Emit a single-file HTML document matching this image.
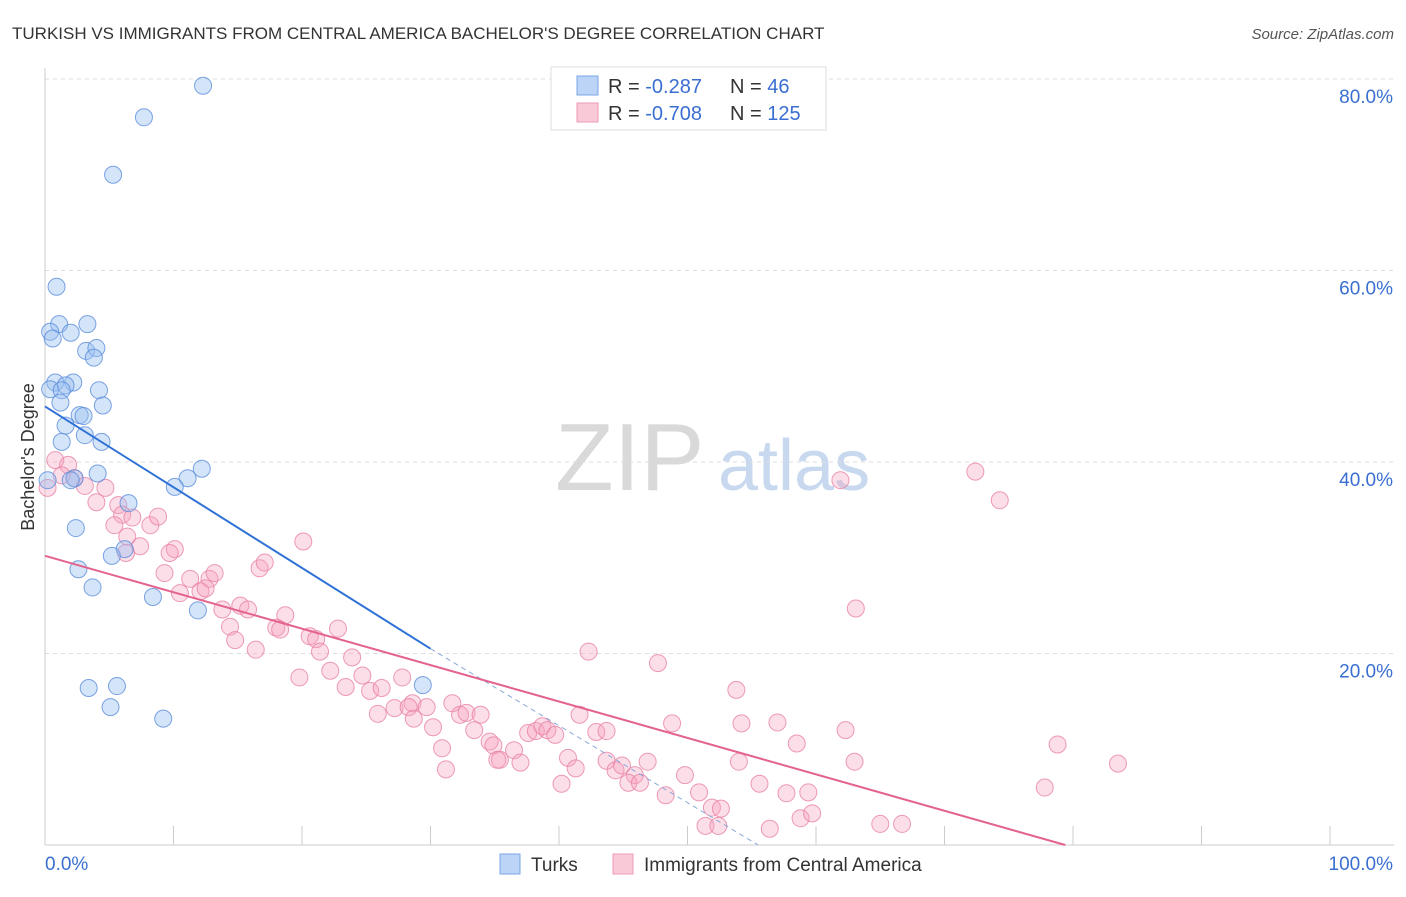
<!DOCTYPE html>
<html><head><meta charset="utf-8">
<style>
body{margin:0;background:#fff;font-family:"Liberation Sans",sans-serif;}
svg text{font-family:"Liberation Sans",sans-serif;}
</style></head>
<body>
<svg id="chart" width="1406" height="892" xmlns="http://www.w3.org/2000/svg">
<text x="12" y="39" font-size="17" fill="#333">TURKISH VS IMMIGRANTS FROM CENTRAL AMERICA BACHELOR'S DEGREE CORRELATION CHART</text>
<text x="1394" y="39" font-size="15" fill="#555" text-anchor="end" font-style="italic">Source: ZipAtlas.com</text>
<g>
<text x="555" y="490" font-size="96" fill="#d9d9d9" font-family="Liberation Serif,serif">ZIP</text>
<text x="718" y="490" font-size="72" fill="#c8d9ef">atlas</text>
</g>
<g id="grid"></g>
<g id="axes"></g>
<g id="marks"></g>
<text transform="translate(34,457) rotate(-90)" font-size="18" fill="#333" text-anchor="middle">Bachelor's Degree</text>
<g>
<rect x="551" y="67" width="275" height="63" fill="#fff" stroke="#ddd"/>
<rect x="577" y="76" width="21" height="19" fill="#bcd4f5" stroke="#7aa5e5"/>
<rect x="577" y="103" width="21" height="19" fill="#f9c9d7" stroke="#ee9ab4"/>
<text x="608" y="93" font-size="20" fill="#333">R = <tspan fill="#3a6fd1">-0.287</tspan></text>
<text x="730" y="93" font-size="20" fill="#333">N = <tspan fill="#3a6fd1"> 46</tspan></text>
<text x="608" y="120" font-size="20" fill="#333">R = <tspan fill="#3a6fd1">-0.708</tspan></text>
<text x="730" y="120" font-size="20" fill="#333">N = <tspan fill="#3a6fd1">125</tspan></text>
</g>
<g>
<rect x="500" y="854" width="20" height="20" fill="#bcd4f5" stroke="#7aa5e5"/>
<text x="531" y="871" font-size="19" fill="#333">Turks</text>
<rect x="613" y="854" width="20" height="20" fill="#f9c9d7" stroke="#ee9ab4"/>
<text x="644" y="871" font-size="19" fill="#333">Immigrants from Central America</text>
</g>
</svg>
<script>
const yTicks=[20,40,60,80];
const xTickLabels=["0.0%","100.0%"];
const turksX=[12.3,7.7,5.3,0.9,1.1,3.3,0.4,2.0,0.6,3.2,4.0,3.8,0.8,2.2,1.6,0.4,1.3,4.2,1.2,4.5,2.7,3.0,1.6,3.1,1.3,4.4,4.1,2.3,2.0,11.1,10.1,12.2,6.5,2.4,6.2,5.2,2.6,3.7,8.4,11.9,3.4,5.6,5.1,9.2,29.4,0.2];
const turksY=[79.3,76.0,70.0,58.3,54.4,54.4,53.6,53.5,52.9,51.6,51.9,50.9,48.3,48.3,48.0,47.6,47.5,47.5,46.2,45.9,44.9,44.8,43.8,42.8,42.1,42.1,38.8,38.3,38.1,38.3,37.4,39.3,35.7,33.1,30.9,30.2,28.8,26.9,25.9,24.5,16.4,16.6,14.4,13.2,16.7,38.1];
const caX=[0.2,0.8,1.8,1.3,2.3,3.1,4.7,4.0,5.7,6.0,6.8,5.4,8.2,8.8,6.4,7.4,10.1,9.7,6.3,9.3,11.3,12.8,13.2,16.7,17.1,20.1,10.5,12.1,12.5,13.8,15.2,15.8,14.4,14.8,16.4,18.7,18.0,18.3,20.6,21.1,21.4,22.8,23.9,19.8,22.2,23.4,24.7,25.3,26.2,27.8,25.9,27.2,28.6,28.3,29.7,28.7,30.2,31.7,32.3,32.8,33.9,30.9,31.2,33.4,34.6,34.9,35.4,35.2,36.5,37.0,37.6,38.2,38.7,39.1,39.7,41.6,42.3,42.9,43.7,40.7,41.3,40.2,43.7,44.4,44.9,45.9,45.4,46.3,46.9,47.7,48.8,48.3,49.8,50.9,51.4,51.9,52.6,54.0,54.2,53.8,52.4,55.6,56.4,57.0,57.7,58.5,58.8,59.4,59.7,62.3,63.0,63.1,61.9,65.0,66.7,72.4,74.3,77.8,78.8,83.5];
const caY=[37.3,40.2,39.7,38.6,38.3,37.5,37.3,35.8,35.5,34.5,34.2,33.4,33.4,34.3,32.2,31.2,30.9,30.5,30.5,28.4,27.8,27.8,28.4,28.9,29.5,31.7,26.3,26.5,26.8,24.6,25.0,24.6,22.8,21.4,20.4,24.0,22.7,22.5,21.8,21.5,20.2,22.6,19.6,17.5,18.2,16.5,17.7,16.1,16.4,17.5,13.7,14.3,14.8,14.4,14.4,13.2,12.3,14.8,13.6,13.8,13.6,10.1,7.9,12.0,10.8,10.4,8.9,8.9,9.9,8.6,11.7,11.9,12.4,12.0,11.5,13.6,20.2,11.8,11.9,9.1,8.0,6.4,8.8,7.8,8.3,7.3,6.5,6.5,8.7,19.0,12.7,5.2,7.3,5.5,2.0,3.9,3.8,8.7,12.7,16.2,2.0,6.4,1.7,12.8,5.4,10.6,2.8,5.5,3.3,12.0,8.7,24.7,38.1,2.2,2.2,39.0,36.0,6.0,10.5,8.5];
const blueFit=[[0,45.8],[30,20.5]], blueDash=[[30,20.5],[55.5,0]], pinkFit=[[0,30.2],[79.4,0]];
const X0=45,X1=1330,Y0=845,YTOP=79;
const sx=v=>X0+(X1-X0)*v/100;
const sy=v=>Y0-(Y0-YTOP)*v/80;
const NS="http://www.w3.org/2000/svg";
function mk(tag,attrs,parent){const e=document.createElementNS(NS,tag);for(const k in attrs)e.setAttribute(k,attrs[k]);parent.appendChild(e);return e;}
const grid=document.getElementById('grid'),axes=document.getElementById('axes'),marks=document.getElementById('marks');
yTicks.forEach(t=>{
 const l=mk('line',{x1:X0,x2:1394,y1:sy(t),y2:sy(t),stroke:'#ddd','stroke-dasharray':'4,4'},grid);
 
 
 const tx=mk('text',{x:1393,y:sy(t)+24,'font-size':19,fill:'#3a6fd1','text-anchor':'end'},axes);
 tx.textContent=t.toFixed(1)+'%';
 
 
});
const ya=mk('line',{x1:X0,x2:X0,y1:68,y2:Y0,stroke:'#ccc'},axes);


const xa=mk('line',{x1:X0,x2:1394,y1:Y0,y2:Y0,stroke:'#ccc'},axes);


for(let i=0;i<=10;i++){
 const t=mk('line',{x1:sx(i*10),x2:sx(i*10),y1:826,y2:Y0,stroke:'#ccc'},axes);
 
 
}
const xl0=mk('text',{x:45,y:870,'font-size':19,fill:'#3a6fd1'},axes);xl0.textContent=xTickLabels[0];


const xl1=mk('text',{x:1393,y:870,'font-size':19,fill:'#3a6fd1','text-anchor':'end'},axes);xl1.textContent=xTickLabels[1];


caX.forEach((v,i)=>{
 const c=mk('circle',{cx:sx(v),cy:sy(caY[i]),r:8.5,fill:'rgba(245,160,188,0.35)',stroke:'rgba(232,130,165,0.8)','stroke-width':1},marks);
 
 
});
turksX.forEach((v,i)=>{
 const c=mk('circle',{cx:sx(v),cy:sy(turksY[i]),r:8.5,fill:'rgba(150,190,240,0.4)',stroke:'rgba(90,140,220,0.8)','stroke-width':1},marks);
 
 
});
const bl=mk('line',{x1:sx(blueFit[0][0]),y1:sy(blueFit[0][1]),x2:sx(blueFit[1][0]),y2:sy(blueFit[1][1]),stroke:'#2f72d6','stroke-width':2},marks);


const bd=mk('line',{x1:sx(blueDash[0][0]),y1:sy(blueDash[0][1]),x2:sx(blueDash[1][0]),y2:sy(blueDash[1][1]),stroke:'#8aa9d8','stroke-width':1,'stroke-dasharray':'5,4'},marks);


const pl=mk('line',{x1:sx(pinkFit[0][0]),y1:sy(pinkFit[0][1]),x2:sx(pinkFit[1][0]),y2:sy(pinkFit[1][1]),stroke:'#e4638e','stroke-width':2},marks);


</script>
</body></html>
